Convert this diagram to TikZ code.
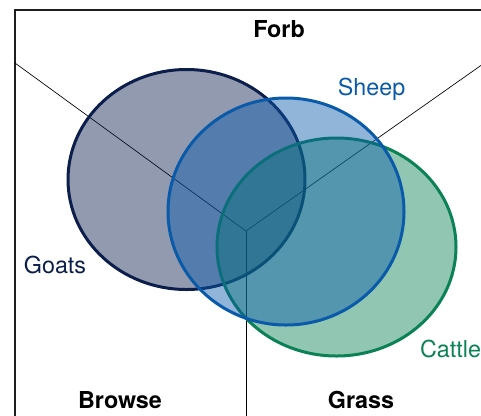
\documentclass[tikz,border=0pt]{standalone}
\usepackage{fontspec}
\setsansfont{TeX Gyre Heros}
\usepackage{tikz}
\definecolor{goatnavy}{HTML}{0C1E4B}
\definecolor{sheepblue}{HTML}{0A5AAA}
\definecolor{cattlegreen}{HTML}{0A8255}
\definecolor{framegray}{HTML}{1E1E1E}
\tikzset{
	dietlab/.style={anchor=base, inner sep=0pt, font=\fontsize{17.5}{20}\selectfont\sffamily\bfseries},
	herdlab/.style={anchor=base, inner sep=0pt, font=\fontsize{17.5}{20}\selectfont\sffamily},
	axisline/.style={draw=black, line width=0.5pt},
	herdset/.style={line width=2.25pt, fill opacity=0.45, draw opacity=1}
}

\begin{document}
\begin{tikzpicture}[x=0.75pt, y=-0.75pt]
	\useasboundingbox (0,0) rectangle (481,415);
	\coordinate (hub) at (246,231);
	\coordinate (forbleft) at (15,63);
	\coordinate (forbright) at (500,52);
	\coordinate (split) at (246,430);
	% frame and dividing lines, cut at the page edge
	\begin{scope}
		\clip (0,0) rectangle (481,415);
		\draw[framegray, line width=1.4pt] (15,10) rectangle (520,440);
		\draw[axisline] (forbleft) -- (hub) -- (forbright);
		\draw[axisline] (hub) -- (split);
	\end{scope}
	% the three diet sets
	\draw[herdset, draw=goatnavy, fill=goatnavy] (186.5,179.5) ellipse [x radius=118.5, y radius=110];
	\draw[herdset, draw=cattlegreen, fill=cattlegreen] (336.5,247) ellipse [x radius=119.5, y radius=109];
	\draw[herdset, draw=sheepblue, fill=sheepblue] (286,211.5) ellipse [x radius=118, y radius=113.5];
	\node[dietlab] (forb) at (279,37) {Forb};
	\node[dietlab] (browse) at (120,408) {Browse};
	\node[dietlab] (grass) at (361,408) {Grass};
	\node[herdlab, text=goatnavy] (goats) at (55,273) {Goats};
	\node[herdlab, text=sheepblue] (sheep) at (371.5,95) {Sheep};
	\node[herdlab, text=cattlegreen] (cattle) at (450.5,357) {Cattle};
\end{tikzpicture}
\end{document}
